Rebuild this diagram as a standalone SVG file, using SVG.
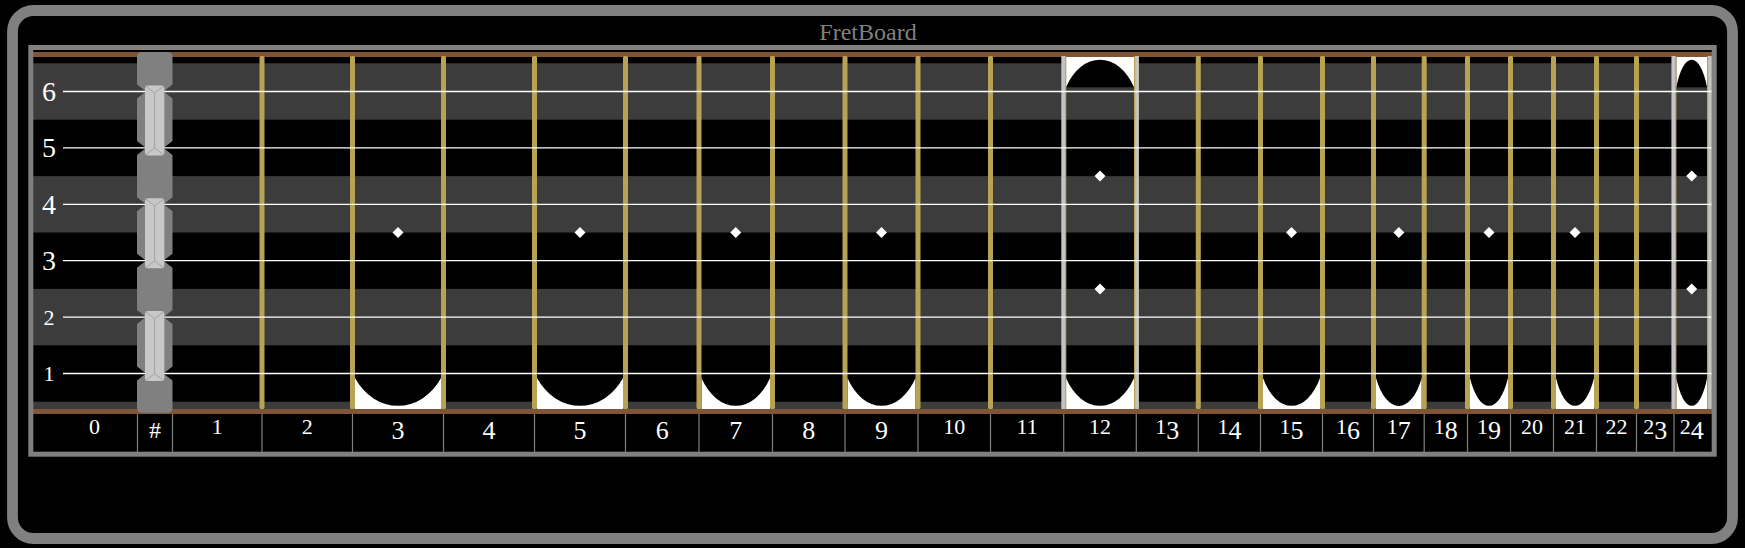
<svg xmlns="http://www.w3.org/2000/svg" width="1745" height="548" viewBox="0 0 1745 548">
<style>
.lbl{font-family:"Liberation Serif","DejaVu Serif",serif;fill:#ffffff;text-anchor:middle}
.s{font-size:22px}
.b{font-size:26px}
.sl{font-size:28px}
.sm{font-size:22px}
.fret{fill:#b8a253}
.wfret{fill:#c4c4c4}
.string{stroke:#ffffff;stroke-width:1.3}
.sep{stroke:#808080;stroke-width:1.2}
.inlay{fill:#ffffff}
.dot{fill:#ffffff}
.nutblk{fill:#808080}
.bar{fill:#c8c8c8}
.barln{stroke:#a2a2a2;stroke-width:1;fill:none}
</style>
<rect x="0" y="0" width="1745" height="548" fill="#000000"/>
<g id="outer-frame">
<rect x="12.5" y="10.5" width="1720" height="528" rx="21" fill="none" stroke="#808080" stroke-width="10.8"/>
<text x="868" y="40" font-family="Liberation Serif, serif" font-size="24" fill="#808080" text-anchor="middle">FretBoard</text>
</g>
<g id="board">
<rect x="33" y="63.3" width="1679" height="345.7" fill="#3c3c3c"/>
<rect x="33" y="119.7" width="1679" height="56.4" fill="#000000"/>
<rect x="33" y="232.5" width="1679" height="56.4" fill="#000000"/>
<rect x="33" y="345.3" width="1679" height="56.4" fill="#000000"/>
<rect x="33" y="52" width="1679" height="5" fill="#7f5537"/>
<rect x="33" y="409" width="1679" height="5" fill="#7f5537"/>
</g>
<g id="inlays">
<rect x="355" y="378" width="86" height="31" fill="#000"/><path class="inlay" d="M355,378 A51.1,60.6 0 0 0 441,378 V409 H355 Z"/>
<rect x="537" y="378" width="86" height="31" fill="#000"/><path class="inlay" d="M537,378 A51.1,60.6 0 0 0 623,378 V409 H537 Z"/>
<rect x="701.5" y="378" width="68.5" height="31" fill="#000"/><path class="inlay" d="M701.5,378 A40.7,60.6 0 0 0 770,378 V409 H701.5 Z"/>
<rect x="847.5" y="378" width="68" height="31" fill="#000"/><path class="inlay" d="M847.5,378 A40.4,60.6 0 0 0 915.5,378 V409 H847.5 Z"/>
<rect x="1066" y="378" width="68" height="31" fill="#000"/><path class="inlay" d="M1066,378 A40.4,60.6 0 0 0 1134,378 V409 H1066 Z"/>
<rect x="1066" y="57" width="68" height="30.3" fill="#000"/><path class="inlay" d="M1066,87.3 A40.4,60 0 0 1 1134,87.3 V57 H1066 Z"/>
<rect x="1263" y="378" width="57" height="31" fill="#000"/><path class="inlay" d="M1263,378 A33.9,60.6 0 0 0 1320,378 V409 H1263 Z"/>
<rect x="1376" y="378" width="45.7" height="31" fill="#000"/><path class="inlay" d="M1376,378 A27.1,60.6 0 0 0 1421.7,378 V409 H1376 Z"/>
<rect x="1470" y="378" width="38" height="31" fill="#000"/><path class="inlay" d="M1470,378 A22.6,60.6 0 0 0 1508,378 V409 H1470 Z"/>
<rect x="1556" y="378" width="38" height="31" fill="#000"/><path class="inlay" d="M1556,378 A22.6,60.6 0 0 0 1594,378 V409 H1556 Z"/>
<rect x="1676.3" y="378" width="30.8" height="31" fill="#000"/><path class="inlay" d="M1676.3,378 A18.3,60.6 0 0 0 1707.1,378 V409 H1676.3 Z"/>
<rect x="1676.3" y="57" width="30.8" height="30.3" fill="#000"/><path class="inlay" d="M1676.3,87.3 A18.3,60 0 0 1 1707.1,87.3 V57 H1676.3 Z"/>
</g>
<g id="frets">
<rect class="fret" x="259.5" y="56" width="5" height="353" rx="1.5"/>
<rect class="fret" x="350" y="56" width="5" height="353" rx="1.5"/>
<rect class="fret" x="441" y="56" width="5" height="353" rx="1.5"/>
<rect class="fret" x="532" y="56" width="5" height="353" rx="1.5"/>
<rect class="fret" x="623" y="56" width="5" height="353" rx="1.5"/>
<rect class="fret" x="696.5" y="56" width="5" height="353" rx="1.5"/>
<rect class="fret" x="770" y="56" width="5" height="353" rx="1.5"/>
<rect class="fret" x="842.5" y="56" width="5" height="353" rx="1.5"/>
<rect class="fret" x="915.5" y="56" width="5" height="353" rx="1.5"/>
<rect class="fret" x="988" y="56" width="5" height="353" rx="1.5"/>
<rect class="fret" x="1061.5" y="56" width="4.8" height="353" rx="1"/><rect class="wfret" x="1061.5" y="56" width="3.6" height="353"/>
<rect class="fret" x="1134" y="56" width="4.8" height="353" rx="1"/><rect class="wfret" x="1135.2" y="56" width="3.6" height="353"/>
<rect class="fret" x="1195.8" y="56" width="5" height="353" rx="1.5"/>
<rect class="fret" x="1258" y="56" width="5" height="353" rx="1.5"/>
<rect class="fret" x="1320" y="56" width="5" height="353" rx="1.5"/>
<rect class="fret" x="1371" y="56" width="5" height="353" rx="1.5"/>
<rect class="fret" x="1421.7" y="56" width="5" height="353" rx="1.5"/>
<rect class="fret" x="1465" y="56" width="5" height="353" rx="1.5"/>
<rect class="fret" x="1508" y="56" width="5" height="353" rx="1.5"/>
<rect class="fret" x="1551" y="56" width="5" height="353" rx="1.5"/>
<rect class="fret" x="1594" y="56" width="5" height="353" rx="1.5"/>
<rect class="fret" x="1634" y="56" width="5" height="353" rx="1.5"/>
<rect class="fret" x="1671.6" y="56" width="4.8" height="353" rx="1"/><rect class="wfret" x="1671.6" y="56" width="3.6" height="353"/>
<rect class="fret" x="1707" y="56" width="4.8" height="353" rx="1"/><rect class="wfret" x="1708.2" y="56" width="3.6" height="353"/>
</g>
<g id="dots">
<polygon class="dot" points="398,227 403.5,232.5 398,238 392.5,232.5"/>
<polygon class="dot" points="580,227 585.5,232.5 580,238 574.5,232.5"/>
<polygon class="dot" points="735.75,227 741.25,232.5 735.75,238 730.25,232.5"/>
<polygon class="dot" points="881.5,227 887,232.5 881.5,238 876,232.5"/>
<polygon class="dot" points="1100,170.6 1105.5,176.1 1100,181.6 1094.5,176.1"/>
<polygon class="dot" points="1100,283.4 1105.5,288.9 1100,294.4 1094.5,288.9"/>
<polygon class="dot" points="1291.5,227 1297,232.5 1291.5,238 1286,232.5"/>
<polygon class="dot" points="1398.85,227 1404.35,232.5 1398.85,238 1393.35,232.5"/>
<polygon class="dot" points="1489,227 1494.5,232.5 1489,238 1483.5,232.5"/>
<polygon class="dot" points="1575,227 1580.5,232.5 1575,238 1569.5,232.5"/>
<polygon class="dot" points="1691.7,170.6 1697.2,176.1 1691.7,181.6 1686.2,176.1"/>
<polygon class="dot" points="1691.7,283.4 1697.2,288.9 1691.7,294.4 1686.2,288.9"/>
</g>
<g id="strings">
<line class="string" x1="63" y1="91.5" x2="1711.7" y2="91.5"/>
<line class="string" x1="63" y1="147.9" x2="1711.7" y2="147.9"/>
<line class="string" x1="63" y1="204.3" x2="1711.7" y2="204.3"/>
<line class="string" x1="63" y1="260.7" x2="1711.7" y2="260.7"/>
<line class="string" x1="63" y1="317.1" x2="1711.7" y2="317.1"/>
<line class="string" x1="63" y1="373.5" x2="1711.7" y2="373.5"/>
</g>
<g id="nut">
<path class="nutblk" d="M137,57 Q137,52 142,52 H167.5 Q172.5,52 172.5,57 V84.5 L163.5,91.5 H146 L137,84.5 Z"/>
<path class="nutblk" d="M137,98.5 L146,91.5 H163.5 L172.5,98.5 V140.9 L163.5,147.9 H146 L137,140.9 Z"/>
<path class="nutblk" d="M137,154.9 L146,147.9 H163.5 L172.5,154.9 V197.3 L163.5,204.3 H146 L137,197.3 Z"/>
<path class="nutblk" d="M137,211.3 L146,204.3 H163.5 L172.5,211.3 V253.7 L163.5,260.7 H146 L137,253.7 Z"/>
<path class="nutblk" d="M137,267.7 L146,260.7 H163.5 L172.5,267.7 V310.1 L163.5,317.1 H146 L137,310.1 Z"/>
<path class="nutblk" d="M137,324.1 L146,317.1 H163.5 L172.5,324.1 V366.5 L163.5,373.5 H146 L137,366.5 Z"/>
<path class="nutblk" d="M137,380.5 L146,373.5 H163.5 L172.5,380.5 V407.7 Q172.5,412.7 167.5,412.7 H142 Q137,412.7 137,407.7 Z"/>
<rect class="bar" x="145" y="85.5" width="19.3" height="70" rx="3"/>
<path class="barln" d="M145.5,86 L154.6,93 L163.8,86 M154.6,93 V148 M145.5,155 L154.6,148 L163.8,155"/>
<rect class="bar" x="145" y="198.3" width="19.3" height="70" rx="3"/>
<path class="barln" d="M145.5,198.8 L154.6,205.8 L163.8,198.8 M154.6,205.8 V260.8 M145.5,267.8 L154.6,260.8 L163.8,267.8"/>
<rect class="bar" x="145" y="311.1" width="19.3" height="70" rx="3"/>
<path class="barln" d="M145.5,311.6 L154.6,318.6 L163.8,311.6 M154.6,318.6 V373.6 M145.5,380.6 L154.6,373.6 L163.8,380.6"/>
</g>
<g id="string-labels">
<text class="lbl sl" x="49" y="101">6</text>
<text class="lbl sl" x="49" y="157.4">5</text>
<text class="lbl sl" x="49" y="213.8">4</text>
<text class="lbl sl" x="49" y="270.2">3</text>
<text class="lbl sm" x="49" y="324.5">2</text>
<text class="lbl sm" x="49" y="381">1</text>
</g>
<g id="label-row">
<rect x="33" y="414" width="1679" height="38" fill="#000"/>
<g class="sep">
<line x1="137.5" y1="414" x2="137.5" y2="452"/><line x1="172.5" y1="414" x2="172.5" y2="452"/>
<line x1="262" y1="414" x2="262" y2="452"/><line x1="352.5" y1="414" x2="352.5" y2="452"/>
<line x1="443.5" y1="414" x2="443.5" y2="452"/><line x1="534.5" y1="414" x2="534.5" y2="452"/>
<line x1="625.5" y1="414" x2="625.5" y2="452"/><line x1="699" y1="414" x2="699" y2="452"/>
<line x1="772.5" y1="414" x2="772.5" y2="452"/><line x1="845" y1="414" x2="845" y2="452"/>
<line x1="918" y1="414" x2="918" y2="452"/><line x1="990.5" y1="414" x2="990.5" y2="452"/>
<line x1="1063.7" y1="414" x2="1063.7" y2="452"/><line x1="1136.3" y1="414" x2="1136.3" y2="452"/>
<line x1="1198.3" y1="414" x2="1198.3" y2="452"/><line x1="1260.5" y1="414" x2="1260.5" y2="452"/>
<line x1="1322.5" y1="414" x2="1322.5" y2="452"/><line x1="1373.5" y1="414" x2="1373.5" y2="452"/>
<line x1="1424.2" y1="414" x2="1424.2" y2="452"/><line x1="1467.5" y1="414" x2="1467.5" y2="452"/>
<line x1="1510.5" y1="414" x2="1510.5" y2="452"/><line x1="1553.5" y1="414" x2="1553.5" y2="452"/>
<line x1="1596.5" y1="414" x2="1596.5" y2="452"/><line x1="1636.5" y1="414" x2="1636.5" y2="452"/>
<line x1="1674" y1="414" x2="1674" y2="452"/>
</g>
<text class="lbl s" x="94.5" y="434">0</text>
<text class="lbl" x="155" y="437.5" font-size="24">#</text>
<text class="lbl s" x="217.25" y="434">1</text>
<text class="lbl s" x="307.25" y="434">2</text>
<text class="lbl b" x="398" y="439">3</text>
<text class="lbl b" x="489" y="439">4</text>
<text class="lbl b" x="580" y="439">5</text>
<text class="lbl b" x="662.25" y="439">6</text>
<text class="lbl b" x="735.75" y="439">7</text>
<text class="lbl b" x="808.75" y="439">8</text>
<text class="lbl b" x="881.5" y="439">9</text>
<text class="lbl s" x="954.25" y="434">10</text>
<text class="lbl s" x="1027.1" y="434">11</text>
<text class="lbl s" x="1100" y="434">12</text>
<text class="lbl s" x="1167.3" y="434">1<tspan class="b" dy="5">3</tspan></text>
<text class="lbl s" x="1229.4" y="434">1<tspan class="b" dy="5">4</tspan></text>
<text class="lbl s" x="1291.5" y="434">1<tspan class="b" dy="5">5</tspan></text>
<text class="lbl s" x="1348" y="434">1<tspan class="b" dy="5">6</tspan></text>
<text class="lbl s" x="1398.85" y="434">1<tspan class="b" dy="5">7</tspan></text>
<text class="lbl s" x="1445.85" y="434">1<tspan class="b" dy="5">8</tspan></text>
<text class="lbl s" x="1489" y="434">1<tspan class="b" dy="5">9</tspan></text>
<text class="lbl s" x="1532" y="434">20</text>
<text class="lbl s" x="1575" y="434">21</text>
<text class="lbl s" x="1616.5" y="434">22</text>
<text class="lbl s" x="1655.25" y="434">2<tspan class="b" dy="5">3</tspan></text>
<text class="lbl s" x="1691.7" y="434">2<tspan class="b" dy="5">4</tspan></text>
</g>
<rect id="frame" x="30.8" y="47.5" width="1683.4" height="406.7" fill="none" stroke="#808080" stroke-width="5"/>
</svg>
